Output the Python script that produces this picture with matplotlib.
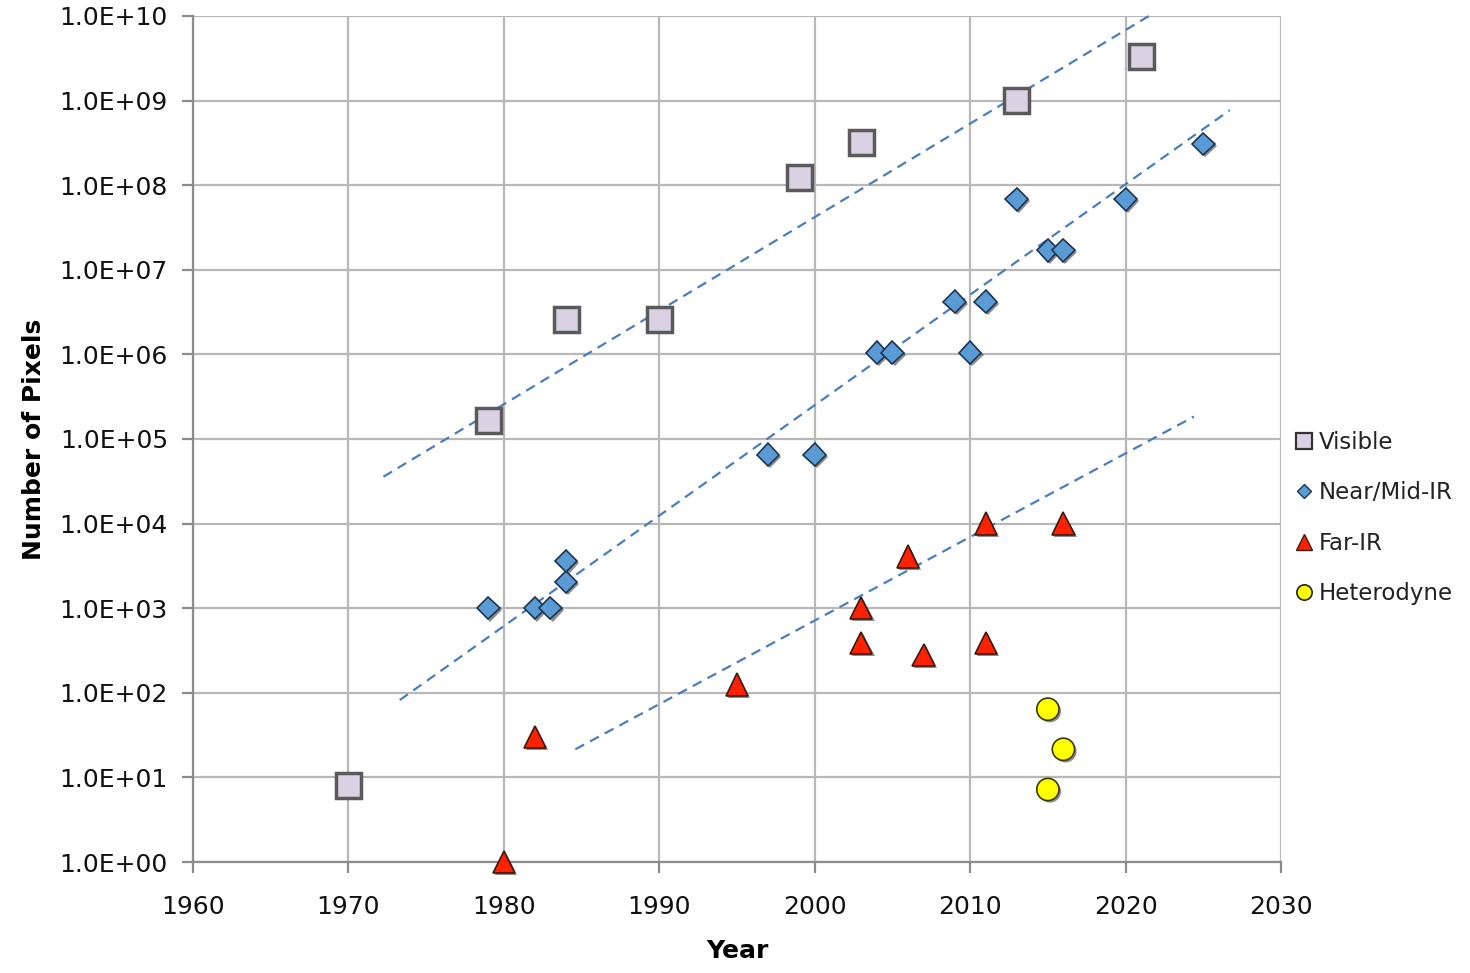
import matplotlib
matplotlib.use("Agg")
import matplotlib.pyplot as plt
import matplotlib.patheffects as pe
from matplotlib.lines import Line2D
import numpy as np

# ---------------- data ----------------
vis_years = [1970, 1979, 1984, 1990, 1999, 2003, 2013, 2021]
vis_pixels = [8, 1.67e5, 2.6e6, 2.6e6, 1.25e8, 3.2e8, 1.0e9, 3.3e9]

nir_years = [1979, 1982, 1983, 1984, 1984, 1997, 2000, 2004, 2005, 2009, 2010, 2011,
             2013, 2015, 2016, 2020, 2025]
nir_pixels = [1000, 1000, 1000, 2048, 3600, 65536, 65536, 1048576, 1048576, 4194304,
              1048576, 4194304, 6.8e7, 1.7e7, 1.7e7, 6.8e7, 3.07e8]

fir_years = [1980, 1982, 1995, 2003, 2003, 2006, 2007, 2011, 2011, 2016]
fir_pixels = [1, 30, 125, 1000, 390, 4096, 280, 1.0e4, 390, 1.0e4]

het_years = [2015, 2016, 2015]
het_pixels = [64, 21.5, 7.2]

# dashed trend guide lines: (start year, end year), (start value, end value)
trend_vis_years = [1972.25, 2021.5]
trend_vis_vals = [3.58e4, 1.0e10]
trend_nir_years = [1973.3, 2026.7]
trend_nir_vals = [82, 7.7e8]
trend_fir_years = [1984.6, 2024.4]
trend_fir_vals = [21.5, 1.84e5]

x_ticks = [1960, 1970, 1980, 1990, 2000, 2010, 2020, 2030]
y_exponents = list(range(0, 11))
y_tick_labels = [f"1.0E+{e:02d}" for e in y_exponents]

series_labels = ["Visible", "Near/Mid-IR", "Far-IR", "Heterodyne"]

# ---------------- figure ----------------
fig = plt.figure(figsize=(14.7, 9.73), dpi=100)
ax = fig.add_axes([193 / 1470, 1 - 862 / 973, (1281 - 193) / 1470, (862 - 16) / 973])

ax.set_yscale("log")
ax.set_xlim(1960, 2030)
ax.set_ylim(1, 1e10)

grid_c = "#B8B8B8"
ax.set_xticks(x_ticks)
ax.set_xticklabels([str(t) for t in x_ticks])
ax.set_yticks([10.0 ** e for e in y_exponents])
ax.set_yticklabels(y_tick_labels)
ax.yaxis.set_minor_locator(matplotlib.ticker.NullLocator())
ax.grid(True, which="major", color=grid_c, linewidth=1.6)
ax.set_axisbelow(True)

for side in ["top", "right"]:
    ax.spines[side].set_visible(False)
for side in ["left", "bottom"]:
    ax.spines[side].set_color("#8C8C8C")
    ax.spines[side].set_linewidth(1.6)
ax.tick_params(axis="both", which="major", direction="out", length=8, width=1.6,
               color="#8C8C8C", labelsize=18, labelcolor="#111111")
ax.tick_params(axis="x", pad=16)
ax.tick_params(axis="y", pad=10)

ax.set_xlabel("Year", fontsize=18, fontweight="bold", labelpad=14)
ax.set_ylabel("Number of Pixels", fontsize=18, fontweight="bold", labelpad=10)

# trend lines
trend_c = "#4A7EBB"
for xs, ys in [(trend_vis_years, trend_vis_vals), (trend_nir_years, trend_nir_vals),
               (trend_fir_years, trend_fir_vals)]:
    ax.plot(xs, ys, linestyle=(0, (4.5, 3)), color=trend_c, linewidth=1.6,
            clip_on=False, zorder=2)

shadow = [pe.SimplePatchShadow(offset=(1.5, -1.5), shadow_rgbFace="black", alpha=0.45),
          pe.Normal()]

styles = [
    dict(marker="s", ms=18, mfc="#D9D2E3", mec="#5A5A5A", mew=2.5),
    dict(marker="D", ms=11.5, mfc="#5B9BD5", mec="#1E3550", mew=1.2),
    dict(marker="^", ms=16, mfc="#FF2200", mec="#3A1A10", mew=1.2),
    dict(marker="o", ms=16, mfc="#FFFF00", mec="#3A3A10", mew=1.2),
]
data = [(vis_years, vis_pixels), (nir_years, nir_pixels),
        (fir_years, fir_pixels), (het_years, het_pixels)]

for (xs, ys), st in zip(data, styles):
    ax.plot(xs, ys, linestyle="none", path_effects=shadow, zorder=3,
            clip_on=False, **st)

# legend
leg_styles = [
    dict(marker="s", ms=11, mfc="#D9D2E3", mec="#333333", mew=1.6),
    dict(marker="D", ms=7, mfc="#5B9BD5", mec="#1E3550", mew=1.0),
    dict(marker="^", ms=11, mfc="#FF2200", mec="#3A1A10", mew=1.0),
    dict(marker="o", ms=11, mfc="#FFFF00", mec="#222222", mew=1.2),
]
handles = [Line2D([], [], linestyle="none", **st) for st in leg_styles]
fig.legend(handles, series_labels, loc="center left",
           bbox_to_anchor=(1295 / 1470, 1 - 518 / 973), frameon=False,
           fontsize=16.5, handlelength=0.75, handletextpad=0.3, labelspacing=1.2,
           borderpad=0, borderaxespad=0, labelcolor="#222222")

fig.savefig("out.png", dpi=100)
